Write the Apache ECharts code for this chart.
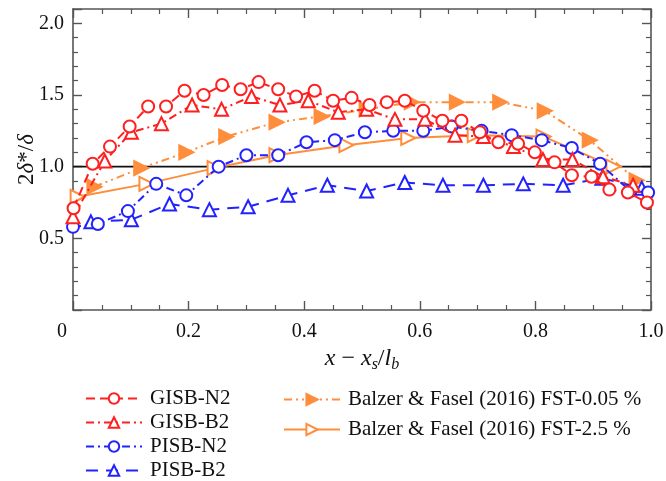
<!DOCTYPE html>
<html>
<head>
<meta charset="utf-8">
<script src="https://cdn.jsdelivr.net/npm/echarts@6/dist/echarts.min.js"></script>
<style>html,body{margin:0;padding:0;background:#fff}#c{width:666px;height:481px}</style>
</head>
<body>
<div id="c"></div>
<script>
const seriesNames = ['GISB-N2', 'GISB-B2', 'PISB-N2', 'PISB-B2', 'Balzer & Fasel (2016) FST-0.05 %', 'Balzer & Fasel (2016) FST-2.5 %'];

const gisbN2X = [0.001,0.034,0.064,0.098,0.130,0.161,0.193,0.226,0.258,0.290,0.321,0.355,0.386,0.418,0.450,0.482,0.513,0.543,0.574,0.606,0.639,0.672,0.704,0.736,0.770,0.799,0.833,0.863,0.897,0.928,0.960,0.993];
const gisbN2Y = [0.71,1.02,1.14,1.28,1.42,1.42,1.53,1.50,1.57,1.54,1.59,1.54,1.49,1.53,1.46,1.48,1.43,1.45,1.46,1.39,1.32,1.32,1.24,1.17,1.16,1.10,1.03,0.94,0.93,0.84,0.82,0.75];

const gisbB2X = [0.0,0.055,0.101,0.153,0.206,0.257,0.309,0.358,0.407,0.459,0.508,0.557,0.609,0.661,0.710,0.762,0.813,0.864,0.917,0.969];
const gisbB2Y = [0.65,1.04,1.24,1.30,1.43,1.40,1.49,1.43,1.46,1.38,1.40,1.33,1.33,1.22,1.21,1.14,1.05,1.05,0.93,0.87];

const pisbN2X = [0.0,0.043,0.095,0.144,0.196,0.252,0.300,0.355,0.404,0.453,0.505,0.554,0.606,0.655,0.707,0.759,0.811,0.863,0.912,0.964,0.995];
const pisbN2Y = [0.58,0.60,0.69,0.88,0.80,1.00,1.08,1.08,1.17,1.185,1.24,1.25,1.25,1.28,1.25,1.22,1.185,1.13,1.02,0.83,0.82];

const pisbB2X = [0.031,0.101,0.167,0.236,0.303,0.372,0.440,0.508,0.574,0.640,0.710,0.779,0.848,0.915,0.984];
const pisbB2Y = [0.615,0.63,0.74,0.70,0.72,0.80,0.87,0.83,0.89,0.87,0.87,0.88,0.87,0.92,0.85];

const fst005X = [0.037,0.118,0.196,0.265,0.352,0.430,0.508,0.586,0.664,0.739,0.816,0.894,0.975];
const fst005Y = [0.86,0.99,1.10,1.21,1.31,1.35,1.40,1.45,1.45,1.45,1.39,1.185,0.905];

const fst25X = [0.008,0.127,0.245,0.352,0.473,0.580,0.695,0.814,0.935];
const fst25Y = [0.79,0.88,0.99,1.08,1.15,1.20,1.22,1.21,1.00];

const refLineY = 1.0;

function pairs(xs, ys) { return xs.map((x, i) => [x, ys[i]]); }

const RED = '#ff1f1f', BLUE = '#2222ff', ORANGE = '#ff8e3c';
const FONT = 'Liberation Serif';
const AX = '#555';

function mkSeries(name, data, color, lineType, symbol, size, rotate, filled, z) {
  return {
    name: name, type: 'line', data: data, z: z,
    symbol: symbol, symbolSize: size, symbolRotate: rotate,
    showAllSymbol: true,
    lineStyle: { color: color, width: 2, type: lineType },
    itemStyle: { color: filled ? color : '#fff', borderColor: color, borderWidth: 2 },
    emphasis: { disabled: true },
    animation: false
  };
}

const series = [
  mkSeries(seriesNames[0], pairs(gisbN2X, gisbN2Y), RED, [9, 5], 'circle', 12, 0, false, 6),
  mkSeries(seriesNames[1], pairs(gisbB2X, gisbB2Y), RED, [8, 4, 2, 4], 'triangle', 13, 0, false, 5),
  mkSeries(seriesNames[2], pairs(pisbN2X, pisbN2Y), BLUE, [8, 4, 2, 4], 'circle', 12, 0, false, 4),
  mkSeries(seriesNames[3], pairs(pisbB2X, pisbB2Y), BLUE, [12, 8], 'triangle', 13, 0, false, 3),
  mkSeries(seriesNames[4], pairs(fst005X, fst005Y), ORANGE, [8, 4, 2, 4, 2, 4], 'triangle', 14, -90, true, 2),
  mkSeries(seriesNames[5], pairs(fst25X, fst25Y), ORANGE, 'solid', 'triangle', 14, -90, false, 1)
];

series.push({
  type: 'line', data: [[0, refLineY], [1, refLineY]], symbol: 'none', silent: true, z: 0,
  lineStyle: { color: '#111', width: 1.6, type: 'solid' }, animation: false
});

const axLine = { show: true, onZero: false, lineStyle: { color: AX, width: 1.6 } };
const axTick = { show: true, inside: true, length: 9, lineStyle: { color: AX, width: 1.4 } };

const option = {
  backgroundColor: '#fff',
  animation: false,
  grid: { left: 73, right: 15, top: 9, bottom: 171, outerBoundsMode: 'none', containLabel: false },
  legend: [
    {
      data: seriesNames.slice(0, 4), orient: 'vertical', left: 85, top: 388, height: 120, padding: 0,
      itemWidth: 56, itemHeight: 13, itemGap: 3,
      textStyle: { fontFamily: FONT, fontSize: 21, lineHeight: 21, color: '#111', padding: [0, 0, 0, 3] }
    },
    {
      data: seriesNames.slice(4), orient: 'vertical', left: 283, top: 389, height: 120, padding: 0,
      itemWidth: 56, itemHeight: 14, itemGap: 9,
      textStyle: { fontFamily: FONT, fontSize: 21, lineHeight: 21, color: '#111', padding: [0, 0, 0, 3] }
    }
  ],
  xAxis: [
    {
      type: 'value', min: 0, max: 1, interval: 0.2, position: 'bottom',
      axisLine: axLine, axisTick: axTick, splitLine: { show: false },
      minorTick: { show: true, splitNumber: 4, length: 5, lineStyle: { color: AX, width: 1.2 } },
      axisLabel: {
        fontFamily: FONT, fontSize: 20, color: '#111', margin: 12,
        formatter: function (v) { return v === 0 ? '{z|0}' : v.toFixed(1); },
        rich: { z: { fontFamily: FONT, fontSize: 20, color: '#111', padding: [0, 22, 0, 0] } }
      },
      name: '{i|x} − {i|x}{s|s}/{i|l}{s|b}', nameLocation: 'middle', nameGap: 35,
      nameTextStyle: {
        fontFamily: FONT, fontSize: 24, color: '#111',
        rich: {
          i: { fontFamily: FONT, fontSize: 24, fontStyle: 'italic', color: '#111' },
          s: { fontFamily: FONT, fontSize: 16, fontStyle: 'italic', color: '#111', verticalAlign: 'bottom', padding: [12, 0, 0, 0] }
        }
      }
    },
    {
      type: 'value', min: 0, max: 1, interval: 0.2, position: 'top',
      axisLine: axLine, axisTick: axTick,
      minorTick: { show: true, splitNumber: 4, length: 5, lineStyle: { color: AX, width: 1.2 } },
      axisLabel: { show: false }, splitLine: { show: false }
    }
  ],
  yAxis: [
    {
      type: 'value', min: 0, max: 2.1, interval: 0.5, position: 'left',
      axisLine: axLine, axisTick: axTick,
      minorTick: { show: true, splitNumber: 5, length: 5, lineStyle: { color: AX, width: 1.2 } },
      splitLine: { show: false },
      axisLabel: {
        fontFamily: FONT, fontSize: 20, color: '#111', margin: 9,
        showMaxLabel: false,
        formatter: function (v) { return (v === 0 || v > 2.05) ? '' : v.toFixed(1); }
      },
      name: '2{i|δ}*/{i|δ}', nameLocation: 'middle', nameGap: 35, nameRotate: 90,
      nameMoveOverlap: false,
      nameTextStyle: {
        fontFamily: FONT, fontSize: 23, color: '#111',
        rich: { i: { fontFamily: FONT, fontSize: 23, fontStyle: 'italic', color: '#111' } }
      }
    },
    {
      type: 'value', min: 0, max: 2.1, interval: 0.5, position: 'right',
      axisLine: axLine, axisTick: axTick,
      minorTick: { show: true, splitNumber: 5, length: 5, lineStyle: { color: AX, width: 1.2 } },
      axisLabel: { show: false }, splitLine: { show: false }
    }
  ],
  series: series
};

const chart = echarts.init(document.getElementById('c'), null, { renderer: 'canvas' });
chart.setOption(option);
</script>
</body>
</html>
